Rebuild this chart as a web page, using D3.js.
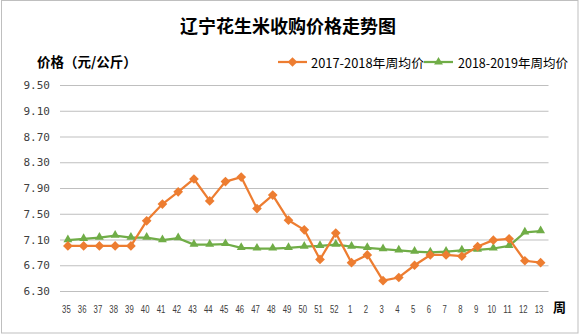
<!DOCTYPE html>
<html>
<head>
<meta charset="utf-8">
<script src="https://cdn.jsdelivr.net/npm/d3@7/dist/d3.min.js"></script>
<style>
  html, body { margin: 0; padding: 0; background: #fff; }
  svg { display: block; }
</style>
</head>
<body>
<script>
// ---- data ----
const weeks = ["35","36","37","38","39","40","41","42","43","44","45","46","47","48","49","50","51","52",
               "1","2","3","4","5","6","7","8","9","10","11","12","13"];
const series1Name = "2017-2018年周均价";
const series1 = [7.00,7.00,7.00,7.00,7.00,7.39,7.65,7.84,8.04,7.70,8.00,8.07,7.58,7.79,7.40,7.25,6.79,7.20,
                 6.74,6.86,6.46,6.51,6.70,6.86,6.86,6.84,6.99,7.09,7.11,6.77,6.74];
const series2Name = "2018-2019年周均价";
const series2 = [7.09,7.11,7.13,7.16,7.13,7.13,7.09,7.12,7.02,7.02,7.03,6.97,6.96,6.96,6.97,6.99,7.00,7.02,
                 6.99,6.97,6.95,6.93,6.91,6.90,6.91,6.93,6.94,6.96,7.00,7.21,7.23];
const yTicks = [6.30,6.70,7.10,7.50,7.90,8.30,8.70,9.10,9.50];
const title = "辽宁花生米收购价格走势图";
const yTitle = "价格（元/公斤）";
const xTitle = "周";

// ---- layout ----
const W = 582, H = 335;
const plot = {left: 60, right: 548.5, top: 85, bottom: 291};
const orange = "#ED7D31", green = "#70AD47", grid = "#BFBFBF";
const cjk = "'Noto Sans CJK SC', 'Noto Sans', sans-serif";

const svg = d3.select("body").append("svg").attr("width", W).attr("height", H);

// outer border
svg.append("rect").attr("x", 1.5).attr("y", 0.5).attr("width", 576.5).attr("height", 332.5)
  .attr("fill", "#fff").attr("stroke", "#BFBFBF").attr("stroke-width", 1);

const x = d3.scaleBand().domain(weeks).range([plot.left, plot.right]);
const y = d3.scaleLinear().domain([6.3, 9.5]).range([plot.bottom, plot.top]);
const cx = d => x(d) + x.bandwidth() / 2;

// y axis with gridlines
const yAxis = svg.append("g").attr("transform", `translate(${plot.left},0)`)
  .call(d3.axisLeft(y).tickValues(yTicks).tickFormat(d3.format(".2f"))
        .tickSize(-(plot.right - plot.left)).tickPadding(10));
yAxis.select(".domain").remove();
yAxis.selectAll(".tick line").attr("stroke", grid).attr("stroke-width", 1);
yAxis.selectAll(".tick text").attr("fill", "#404040")
  .style("font-family", "'DejaVu Sans Mono', monospace").style("font-size", "11px");

// x axis labels
const xAxis = svg.append("g").attr("transform", `translate(0,${plot.bottom})`)
  .call(d3.axisBottom(x).tickSize(0).tickPadding(0));
xAxis.select(".domain").remove();
xAxis.selectAll(".tick text")
  .attr("y", 22).attr("dy", 0).attr("x", -1.5)
  .attr("fill", "#404040")
  .style("font-family", "'Liberation Sans', Arial, sans-serif").style("font-size", "11px")
  .attr("textLength", d => d.length * 4.3).attr("lengthAdjust", "spacingAndGlyphs");

// lines
const line = d3.line().x((d, i) => cx(weeks[i])).y(d => y(d));
svg.append("path").datum(series2).attr("d", line)
  .attr("fill", "none").attr("stroke", green).attr("stroke-width", 2.25).attr("stroke-linejoin", "round");
svg.append("path").datum(series1).attr("d", line)
  .attr("fill", "none").attr("stroke", orange).attr("stroke-width", 2.25).attr("stroke-linejoin", "round");

const diamond = d3.symbol().type(d3.symbolDiamond2).size(60);
const tri = d3.symbol().type(d3.symbolTriangle).size(34);

svg.append("g").selectAll("path").data(series2).join("path")
  .attr("d", tri).attr("fill", green)
  .attr("transform", (d, i) => `translate(${cx(weeks[i])},${y(d) - 0.5})`);
svg.append("g").selectAll("path").data(series1).join("path")
  .attr("d", diamond).attr("fill", orange)
  .attr("transform", (d, i) => `translate(${cx(weeks[i])},${y(d)})`);

// title
svg.append("text").attr("x", 288).attr("y", 25).attr("text-anchor", "middle")
  .attr("dominant-baseline", "central")
  .style("font-family", cjk).style("font-size", "18px").style("font-weight", "bold")
  .attr("fill", "#000").text(title);

// y title
svg.append("text").attr("x", 37).attr("y", 61).attr("dominant-baseline", "central")
  .style("font-family", cjk).style("font-size", "13.5px").style("font-weight", "bold")
  .attr("fill", "#000").text(yTitle);

// x title
svg.append("text").attr("x", 559.5).attr("y", 306).attr("text-anchor", "middle")
  .attr("dominant-baseline", "central")
  .style("font-family", cjk).style("font-size", "13px").style("font-weight", "bold")
  .attr("fill", "#000").text(xTitle);

// legend
const legend = [
  {name: series1Name, color: orange, sym: diamond, lx: 278, tx: 311, tw: 113},
  {name: series2Name, color: green, sym: tri, lx: 424, tx: 458, tw: 110}
];
const lg = svg.append("g").selectAll("g").data(legend).join("g");
lg.append("line").attr("x1", d => d.lx).attr("x2", d => d.lx + 29).attr("y1", 62).attr("y2", 62)
  .attr("stroke", d => d.color).attr("stroke-width", 2.25);
lg.append("path").attr("d", d => d.sym()).attr("fill", d => d.color)
  .attr("transform", d => `translate(${d.lx + 14.5},62)`);
lg.append("text").attr("x", d => d.tx).attr("y", 62.5).attr("dominant-baseline", "central")
  .style("font-family", cjk).style("font-size", "12.5px").attr("fill", "#000")
  .attr("textLength", d => d.tw).attr("lengthAdjust", "spacingAndGlyphs")
  .text(d => d.name);
</script>
</body>
</html>
